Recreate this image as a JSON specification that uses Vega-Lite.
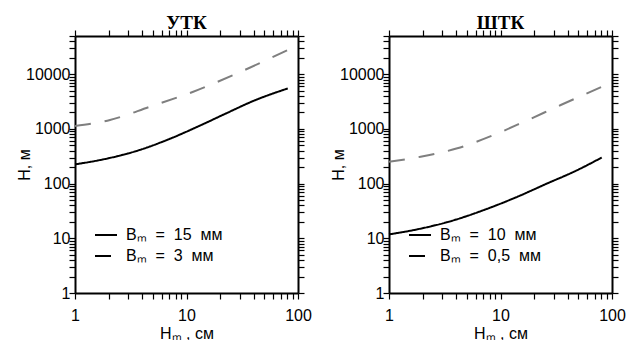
{
  "$schema": "https://vega.github.io/schema/vega-lite/v6.json",
  "padding": {"left": 16, "top": 14, "right": 5, "bottom": 5},
  "bounds": "flush",
  "spacing": 91,
  "background": "white",
  "config": {
    "view": {"stroke": null},
    "axis": {
      "labelFont": "Liberation Sans", "labelFontSize": 16, "labelColor": "black",
      "titleFont": "Liberation Sans", "titleFontSize": 16, "titleFontWeight": "normal", "titleColor": "black",
      "domainColor": "black", "domainWidth": 2, "tickColor": "black", "tickWidth": 1.2, "tickSize": 6, "ticks": true,
      "grid": false, "labelFlush": false, "labelOverlap": false
    },
    "legend": {
      "labelFont": "Liberation Sans", "labelFontSize": 16, "labelColor": "black"
    }
  },
  "datasets": {
    "utk": [
      {"x": 1, "y": 225, "series": "Bₘ\u00a0\u00a0=\u00a0\u00a015\u00a0\u00a0мм"},
      {"x": 1.68, "y": 270, "series": "Bₘ\u00a0\u00a0=\u00a0\u00a015\u00a0\u00a0мм"},
      {"x": 3.7, "y": 405, "series": "Bₘ\u00a0\u00a0=\u00a0\u00a015\u00a0\u00a0мм"},
      {"x": 7.1, "y": 660, "series": "Bₘ\u00a0\u00a0=\u00a0\u00a015\u00a0\u00a0мм"},
      {"x": 13.2, "y": 1150, "series": "Bₘ\u00a0\u00a0=\u00a0\u00a015\u00a0\u00a0мм"},
      {"x": 23, "y": 1950, "series": "Bₘ\u00a0\u00a0=\u00a0\u00a015\u00a0\u00a0мм"},
      {"x": 39.8, "y": 3250, "series": "Bₘ\u00a0\u00a0=\u00a0\u00a015\u00a0\u00a0мм"},
      {"x": 81, "y": 5500, "series": "Bₘ\u00a0\u00a0=\u00a0\u00a015\u00a0\u00a0мм"},
      {"x": 1, "y": 1130, "series": "Bₘ\u00a0\u00a0=\u00a0\u00a03\u00a0\u00a0мм"},
      {"x": 2.06, "y": 1455, "series": "Bₘ\u00a0\u00a0=\u00a0\u00a03\u00a0\u00a0мм"},
      {"x": 4.7, "y": 2550, "series": "Bₘ\u00a0\u00a0=\u00a0\u00a03\u00a0\u00a0мм"},
      {"x": 11.5, "y": 4790, "series": "Bₘ\u00a0\u00a0=\u00a0\u00a03\u00a0\u00a0мм"},
      {"x": 26.3, "y": 9670, "series": "Bₘ\u00a0\u00a0=\u00a0\u00a03\u00a0\u00a0мм"},
      {"x": 81, "y": 27700, "series": "Bₘ\u00a0\u00a0=\u00a0\u00a03\u00a0\u00a0мм"}
    ],
    "shtk": [
      {"x": 1, "y": 11.8, "series": "Bₘ\u00a0\u00a0=\u00a0\u00a010\u00a0\u00a0мм"},
      {"x": 1.8, "y": 14.6, "series": "Bₘ\u00a0\u00a0=\u00a0\u00a010\u00a0\u00a0мм"},
      {"x": 3.7, "y": 21, "series": "Bₘ\u00a0\u00a0=\u00a0\u00a010\u00a0\u00a0мм"},
      {"x": 7.1, "y": 32.9, "series": "Bₘ\u00a0\u00a0=\u00a0\u00a010\u00a0\u00a0мм"},
      {"x": 14.2, "y": 57.6, "series": "Bₘ\u00a0\u00a0=\u00a0\u00a010\u00a0\u00a0мм"},
      {"x": 26.3, "y": 101, "series": "Bₘ\u00a0\u00a0=\u00a0\u00a010\u00a0\u00a0мм"},
      {"x": 45.6, "y": 165, "series": "Bₘ\u00a0\u00a0=\u00a0\u00a010\u00a0\u00a0мм"},
      {"x": 81, "y": 300, "series": "Bₘ\u00a0\u00a0=\u00a0\u00a010\u00a0\u00a0мм"},
      {"x": 1, "y": 251, "series": "Bₘ\u00a0\u00a0=\u00a0\u00a00,5\u00a0\u00a0мм"},
      {"x": 1.92, "y": 310, "series": "Bₘ\u00a0\u00a0=\u00a0\u00a00,5\u00a0\u00a0мм"},
      {"x": 4.1, "y": 442, "series": "Bₘ\u00a0\u00a0=\u00a0\u00a00,5\u00a0\u00a0мм"},
      {"x": 8.7, "y": 774, "series": "Bₘ\u00a0\u00a0=\u00a0\u00a00,5\u00a0\u00a0мм"},
      {"x": 16.3, "y": 1355, "series": "Bₘ\u00a0\u00a0=\u00a0\u00a00,5\u00a0\u00a0мм"},
      {"x": 34.7, "y": 2735, "series": "Bₘ\u00a0\u00a0=\u00a0\u00a00,5\u00a0\u00a0мм"},
      {"x": 81, "y": 5900, "series": "Bₘ\u00a0\u00a0=\u00a0\u00a00,5\u00a0\u00a0мм"}
    ]
  },
  "resolve": {
    "scale": {"color": "independent", "strokeDash": "independent"},
    "legend": {"color": "independent", "strokeDash": "independent"}
  },
  "hconcat": [
    {
      "width": 223, "height": 257,
      "title": {"text": "УТК", "font": "Liberation Serif", "fontSize": 19, "fontWeight": "bold", "color": "black", "offset": -5, "frame": "group"},
      "data": {"name": "utk"},
      "resolve": {"axis": {"x": "independent", "y": "independent"}},
      "layer": [
        {
          "mark": {"type": "line", "strokeWidth": 2, "interpolate": "monotone"},
          "encoding": {
            "x": {"field": "x", "type": "quantitative",
              "scale": {"type": "log", "domain": [1, 100], "nice": false},
              "axis": {"orient": "bottom", "title": "Hₘ , см", "values": [1,2,3,4,5,6,7,8,9,10,20,30,40,50,60,70,80,90,100], "format": "d",
                "labelExpr": "(datum.value==1||datum.value==10||datum.value==100) ? datum.label : ''",
                "labelPadding": 8, "titleX": 111.5, "titleY": 40, "titleBaseline": "middle",
                "encode": {"ticks": {"update": {"y2": {"signal": "(datum.value==1||datum.value==10||datum.value==100) ? -6 : -3"}}}}}},
            "y": {"field": "y", "type": "quantitative",
              "scale": {"type": "log", "domain": [1, 50000], "nice": false},
              "axis": {"orient": "left", "title": "H, м", "values": [1,2,3,4,5,6,7,8,9,10,20,30,40,50,60,70,80,90,100,200,300,400,500,600,700,800,900,1000,2000,3000,4000,5000,6000,7000,8000,9000,10000,20000,30000,40000,50000], "format": "d",
                "labelExpr": "(datum.value==1||datum.value==10||datum.value==100||datum.value==1000||datum.value==10000) ? datum.label : ''",
                "labelPadding": -1, "titleX": -51, "titleY": 128.5, "titleBaseline": "middle", "titleAngle": -90,
                "encode": {"ticks": {"update": {"x2": {"signal": "(datum.value==1||datum.value==10||datum.value==100||datum.value==1000||datum.value==10000) ? 6 : 3"}}}}}},
            "color": {"condition": {"test": "indexof(datum.series, '15') < 0", "value": "#7f7f7f"}, "value": "black"},
            "strokeDash": {"field": "series", "type": "nominal",
              "scale": {"domain": ["Bₘ\u00a0\u00a0=\u00a0\u00a015\u00a0\u00a0мм", "Bₘ\u00a0\u00a0=\u00a0\u00a03\u00a0\u00a0мм"], "range": [[1, 0], [16, 14]]},
              "legend": {"orient": "none", "legendX": 19, "legendY": 187, "title": null, "symbolType": "stroke", "symbolSize": 484, "symbolStrokeWidth": 2, "symbolStrokeColor": "black", "labelOffset": 8, "rowPadding": 1, "padding": 0}}
          }
        },
        {
          "mark": {"type": "line", "opacity": 0},
          "encoding": {
            "detail": {"field": "series"},
            "x": {"field": "x", "type": "quantitative",
              "axis": {"orient": "top", "title": null, "labels": false, "values": [1,2,3,4,5,6,7,8,9,10,20,30,40,50,60,70,80,90,100],
                "encode": {"ticks": {"update": {"y2": {"signal": "(datum.value==1||datum.value==10||datum.value==100) ? 6 : 3"}}}}}},
            "y": {"field": "y", "type": "quantitative",
              "axis": {"orient": "right", "title": null, "labels": false, "values": [1,2,3,4,5,6,7,8,9,10,20,30,40,50,60,70,80,90,100,200,300,400,500,600,700,800,900,1000,2000,3000,4000,5000,6000,7000,8000,9000,10000,20000,30000,40000,50000],
                "encode": {"ticks": {"update": {"x2": {"signal": "(datum.value==1||datum.value==10||datum.value==100||datum.value==1000||datum.value==10000) ? -6 : -3"}}}}}}
          }
        }
      ]
    },
    {
      "width": 223, "height": 257,
      "title": {"text": "ШТК", "font": "Liberation Serif", "fontSize": 19, "fontWeight": "bold", "color": "black", "offset": -5, "frame": "group"},
      "data": {"name": "shtk"},
      "resolve": {"axis": {"x": "independent", "y": "independent"}},
      "layer": [
        {
          "mark": {"type": "line", "strokeWidth": 2, "interpolate": "monotone"},
          "encoding": {
            "x": {"field": "x", "type": "quantitative",
              "scale": {"type": "log", "domain": [1, 100], "nice": false},
              "axis": {"orient": "bottom", "title": "Hₘ , см", "values": [1,2,3,4,5,6,7,8,9,10,20,30,40,50,60,70,80,90,100], "format": "d",
                "labelExpr": "(datum.value==1||datum.value==10||datum.value==100) ? datum.label : ''",
                "labelPadding": 8, "titleX": 111.5, "titleY": 40, "titleBaseline": "middle",
                "encode": {"ticks": {"update": {"y2": {"signal": "(datum.value==1||datum.value==10||datum.value==100) ? -6 : -3"}}}}}},
            "y": {"field": "y", "type": "quantitative",
              "scale": {"type": "log", "domain": [1, 50000], "nice": false},
              "axis": {"orient": "left", "title": "H, м", "values": [1,2,3,4,5,6,7,8,9,10,20,30,40,50,60,70,80,90,100,200,300,400,500,600,700,800,900,1000,2000,3000,4000,5000,6000,7000,8000,9000,10000,20000,30000,40000,50000], "format": "d",
                "labelExpr": "(datum.value==1||datum.value==10||datum.value==100||datum.value==1000||datum.value==10000) ? datum.label : ''",
                "labelPadding": -1, "titleX": -51, "titleY": 128.5, "titleBaseline": "middle", "titleAngle": -90,
                "encode": {"ticks": {"update": {"x2": {"signal": "(datum.value==1||datum.value==10||datum.value==100||datum.value==1000||datum.value==10000) ? 6 : 3"}}}}}},
            "color": {"condition": {"test": "indexof(datum.series, '10') < 0", "value": "#7f7f7f"}, "value": "black"},
            "strokeDash": {"field": "series", "type": "nominal",
              "scale": {"domain": ["Bₘ\u00a0\u00a0=\u00a0\u00a010\u00a0\u00a0мм", "Bₘ\u00a0\u00a0=\u00a0\u00a00,5\u00a0\u00a0мм"], "range": [[1, 0], [16, 14]]},
              "legend": {"orient": "none", "legendX": 19, "legendY": 187, "title": null, "symbolType": "stroke", "symbolSize": 484, "symbolStrokeWidth": 2, "symbolStrokeColor": "black", "labelOffset": 8, "rowPadding": 1, "padding": 0}}
          }
        },
        {
          "mark": {"type": "line", "opacity": 0},
          "encoding": {
            "detail": {"field": "series"},
            "x": {"field": "x", "type": "quantitative",
              "axis": {"orient": "top", "title": null, "labels": false, "values": [1,2,3,4,5,6,7,8,9,10,20,30,40,50,60,70,80,90,100],
                "encode": {"ticks": {"update": {"y2": {"signal": "(datum.value==1||datum.value==10||datum.value==100) ? 6 : 3"}}}}}},
            "y": {"field": "y", "type": "quantitative",
              "axis": {"orient": "right", "title": null, "labels": false, "values": [1,2,3,4,5,6,7,8,9,10,20,30,40,50,60,70,80,90,100,200,300,400,500,600,700,800,900,1000,2000,3000,4000,5000,6000,7000,8000,9000,10000,20000,30000,40000,50000],
                "encode": {"ticks": {"update": {"x2": {"signal": "(datum.value==1||datum.value==10||datum.value==100||datum.value==1000||datum.value==10000) ? -6 : -3"}}}}}}
          }
        }
      ]
    }
  ]
}
